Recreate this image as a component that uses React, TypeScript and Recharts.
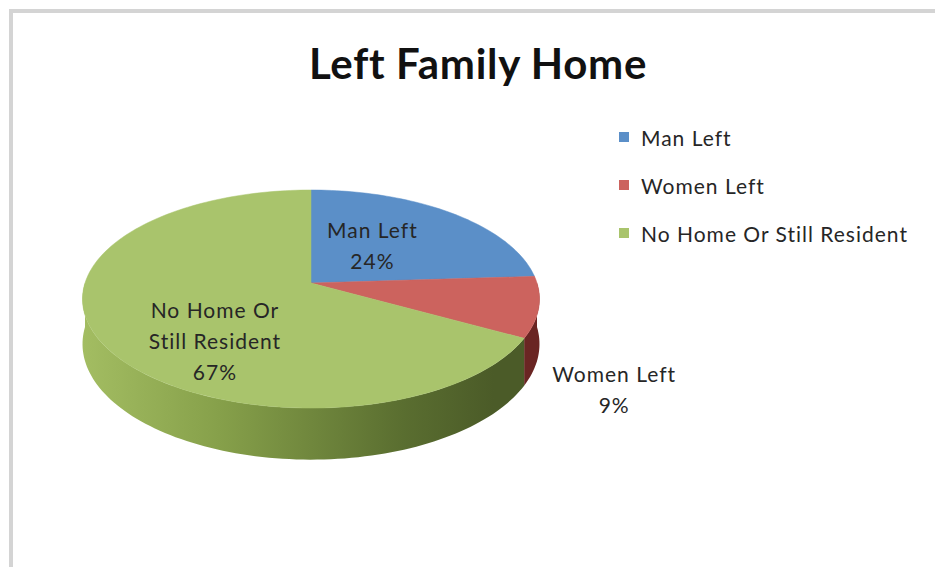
import React from 'react';
import { PieChart, Pie, Cell, Legend } from 'recharts';

const title = 'Left Family Home';
const categories = ['Man Left', 'Women Left', 'No Home Or Still Resident'];
const values = [24, 9, 67];
const topColors = ['#5b8fc8', '#cc635e', '#a9c46c'];
const sideLight = ['#4a74a6', '#82302d', '#a3bd62'];
const sideDark = ['#2f4d70', '#6a2523', '#4b5b28'];

const data = categories.map((name, i) => ({ name, value: values[i] }));

const FONT = 'Lato, "Open Sans", sans-serif';
const TEXT = '#262626';
const K = 0.147; // perspective strength
const TILT = 0.472; // vertical squash of the disc
const DEPTH = 44; // pie thickness

function project(cx: number, cy: number, R: number, deg: number, r: number) {
  const t = (deg * Math.PI) / 180;
  const u = r * Math.cos(t);
  const v = -r * Math.sin(t);
  const w = 1 - K * v;
  return { x: cx + (R * u) / w, y: cy + (R * TILT * v) / w, w, v };
}

function arc(cx: number, cy: number, R: number, a0: number, a1: number) {
  const n = Math.max(2, Math.ceil(Math.abs(a1 - a0) / 1.5));
  const pts = [];
  for (let i = 0; i <= n; i++) {
    const a = a0 + ((a1 - a0) * i) / n;
    pts.push(project(cx, cy, R, a, 1));
  }
  return pts;
}

function SliceShape(props: any) {
  const { cx, cy, outerRadius, startAngle, endAngle } = props;
  const name = props.name ?? props.payload?.name;
  const idx = Math.max(0, categories.indexOf(name));
  const R = outerRadius;
  const hi = Math.max(startAngle, endAngle);
  const lo = Math.min(startAngle, endAngle);
  const top = arc(cx, cy, R, hi, lo);
  const topPath =
    `M${cx},${cy} ` + top.map((p) => `L${p.x.toFixed(2)},${p.y.toFixed(2)}`).join(' ') + ' Z';
  const s0 = Math.min(hi, 0);
  const s1 = Math.max(lo, -180);
  let sidePath = '';
  if (s0 > s1) {
    const upper = arc(cx, cy, R, s0, s1);
    const lower = upper
      .slice()
      .reverse()
      .map((p) => ({ x: p.x, y: p.y + DEPTH / p.w }));
    sidePath =
      'M' +
      upper.map((p) => `${p.x.toFixed(2)},${p.y.toFixed(2)}`).join(' L') +
      ' L' +
      lower.map((p) => `${p.x.toFixed(2)},${p.y.toFixed(2)}`).join(' L') +
      ' Z';
  }
  const gid = `side-grad-${idx}`;
  return (
    <g>
      <defs>
        <linearGradient id={gid} gradientUnits="userSpaceOnUse" x1={cx - R * 1.01} y1={0} x2={cx + R * 1.01} y2={0}>
          <stop offset="0" stopColor={sideLight[idx]} />
          <stop offset="0.3" stopColor={idx === 2 ? '#86a04a' : sideLight[idx]} />
          <stop offset="0.7" stopColor={idx === 2 ? '#5a6e30' : sideDark[idx]} />
          <stop offset="0.9" stopColor={sideDark[idx]} />
          <stop offset="1" stopColor={sideDark[idx]} />
        </linearGradient>
      </defs>
      {sidePath && <path d={sidePath} fill={`url(#${gid})`} stroke="none" />}
      <path d={topPath} fill={topColors[idx]} stroke={topColors[idx]} strokeWidth={0.5} />
    </g>
  );
}

function wrap(text: string, max: number) {
  const words = text.split(' ');
  const lines: string[] = [];
  let cur = '';
  for (const w of words) {
    if (cur && (cur + ' ' + w).length > max) {
      lines.push(cur);
      cur = w;
    } else cur = cur ? cur + ' ' + w : w;
  }
  if (cur) lines.push(cur);
  return lines;
}

const renderLabel = (p: any) => {
  const { cx, cy, outerRadius, midAngle, percent } = p;
  const name = p.name ?? p.payload?.name;
  const pct = `${Math.round(percent * 100)}%`;
  const small = percent < 0.15;
  let x: number;
  let y: number;
  let lines: string[];
  if (small) {
    const q = project(cx, cy, outerRadius, midAngle, 1.3);
    x = q.x + 4;
    y = q.y + DEPTH * 1.67;
    lines = [name, pct];
  } else {
    const q = project(cx, cy, outerRadius, midAngle, 0.5);
    const vf = -Math.sin((midAngle * Math.PI) / 180);
    x = q.x + (vf > 0 ? 5 : -12);
    y = q.y + Math.max(0, vf) * DEPTH * 1.3 - (vf > 0 ? 0 : 2);
    lines = [...wrap(name, 14), pct];
  }
  const lh = 31;
  const y0 = y - ((lines.length - 1) * lh) / 2;
  return (
    <text
      key={`lbl-${name}`}
      x={x}
      y={y0}
      textAnchor="middle"
      dominantBaseline="central"
      fill={TEXT}
      fontSize={21}
      letterSpacing={1}
      fontFamily={FONT}
    >
      {lines.map((l, i) => (
        <tspan key={i} x={x} y={y0 + i * lh} dominantBaseline="central">
          {l}
        </tspan>
      ))}
    </text>
  );
};

const renderLegend = () => (
  <div style={{ fontFamily: FONT }}>
    {data.map((d, i) => (
      <div key={d.name} style={{ display: 'flex', alignItems: 'center', height: 48 }}>
        <span style={{ display: 'inline-block', width: 10, height: 10, background: topColors[i], marginRight: 12 }} />
        <span style={{ fontSize: 21, letterSpacing: 1, color: TEXT, whiteSpace: 'nowrap' }}>{d.name}</span>
      </div>
    ))}
  </div>
);

export default function App() {
  return (
    <div style={{ position: 'absolute', left: 0, top: 0, width: 935, height: 567, background: '#fff', overflow: 'hidden' }}>
      <div style={{ position: 'absolute', left: 9, top: 9, width: 926, height: 4, background: '#d4d4d4' }} />
      <div style={{ position: 'absolute', left: 9, top: 9, width: 4, height: 558, background: '#d4d4d4' }} />
      <div
        style={{
          position: 'absolute',
          left: 0,
          top: 37,
          width: 956,
          textAlign: 'center',
          fontFamily: FONT,
          fontWeight: 700,
          fontSize: 42,
          letterSpacing: 0.7,
          lineHeight: '52px',
          color: '#111',
        }}
      >
        {title}
      </div>
      <div style={{ position: 'absolute', left: 0, top: 0 }}>
        <PieChart width={935} height={567} margin={{ top: 0, right: 0, bottom: 0, left: 0 }}>
          <Pie
            data={data}
            dataKey="value"
            nameKey="name"
            cx={311}
            cy={283}
            outerRadius={226}
            startAngle={90}
            endAngle={-270}
            stroke="none"
            isAnimationActive={false}
            shape={SliceShape}
            activeShape={SliceShape}
            inactiveShape={SliceShape}
            label={renderLabel}
            labelLine={false}
          >
            {data.map((d, i) => (
              <Cell key={d.name} fill={topColors[i]} />
            ))}
          </Pie>
          <Legend
            layout="vertical"
            verticalAlign="top"
            align="right"
            content={renderLegend}
            wrapperStyle={{ position: 'absolute', left: 619, top: 113, width: 310 }}
          />
        </PieChart>
      </div>
    </div>
  );
}
